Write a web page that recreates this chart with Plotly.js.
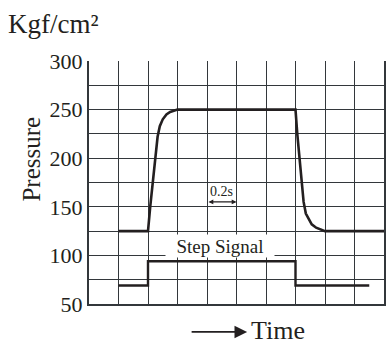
<!DOCTYPE html>
<html>
<head>
<meta charset="utf-8">
<script src="https://cdn.plot.ly/plotly-3.0.1.min.js"></script>
<style>html,body{margin:0;padding:0;background:#fff;}#chart{width:388px;height:345px;}</style>
</head>
<body>
<div id="chart"></div>
<script>
// Pressure response (time in s, pressure in Kgf/cm²)
var pressureX = [0.2, 0.4, 0.415, 0.432, 0.447, 0.465, 0.48, 0.5, 0.525, 0.55, 0.6, 1.4, 1.412, 1.426, 1.442, 1.455, 1.47, 1.49, 1.51, 1.54, 1.57, 1.6, 2.0];
var pressureY = [125, 125, 150, 175, 200, 222, 233, 240, 245, 247.5, 250, 250, 225, 200, 175, 155, 143, 137, 132, 128.5, 126.5, 125, 125];
// Step signal
var stepX = [0.2, 0.4, 1.4, 1.9];
var stepY = [69, 94, 69, 69];
// Axis ticks
var yTickVals = [50, 75, 100, 125, 150, 175, 200, 225, 250, 275, 300];
var yTickText = ['50', '', '100', '', '150', '', '200', '', '250', '', '300'];
var xGridVals = [0, 0.2, 0.4, 0.6, 0.8, 1.0, 1.2, 1.4, 1.6, 1.8, 2.0];

var ink = '#231f20';
var serif = '"Liberation Serif", "Times New Roman", serif';

var traces = [
  {x: pressureX, y: pressureY, mode: 'lines', line: {color: ink, width: 2.6}, hoverinfo: 'skip'},
  {x: stepX, y: stepY, mode: 'lines', line: {color: ink, width: 2.4, shape: 'hv'}, hoverinfo: 'skip'}
];

var layout = {
  width: 388, height: 345,
  margin: {l: 89, r: 4, t: 61, b: 41, pad: 0},
  paper_bgcolor: '#fff', plot_bgcolor: '#fff',
  showlegend: false,
  font: {family: serif, color: ink},
  xaxis: {
    range: [0, 2], tickvals: xGridVals, showticklabels: false, ticks: '',
    showgrid: true, gridcolor: '#33373b', gridwidth: 1, zeroline: false,
    showline: true, linecolor: '#33373b', linewidth: 2, mirror: false, fixedrange: true
  },
  yaxis: {
    range: [50, 300], tickvals: yTickVals, ticktext: yTickText, ticks: '',
    tickfont: {family: serif, size: 22, color: ink},
    showgrid: true, gridcolor: '#33373b', gridwidth: 1, zeroline: false,
    showline: true, linecolor: '#33373b', linewidth: 2, mirror: true, fixedrange: true
  },
  annotations: [
    {xref: 'x', yref: 'y', x: 0.885, y: 109.5, text: 'Step Signal', showarrow: false,
     font: {family: serif, size: 19, color: ink}, bgcolor: '#fff', width: 108, height: 22, borderpad: 0},
    {xref: 'x', yref: 'y', x: 0.9, y: 166, text: '0.2s', showarrow: false,
     font: {family: serif, size: 14, color: ink}},
    {xref: 'x', yref: 'y', x: 1.0, y: 155, axref: 'x', ayref: 'y', ax: 0.8, ay: 155, text: '',
     showarrow: true, arrowside: 'end+start', arrowhead: 2, startarrowhead: 2, arrowsize: 0.8, startarrowsize: 0.8,
     arrowwidth: 1.2, arrowcolor: ink, standoff: 0, startstandoff: 0},
    {xref: 'paper', yref: 'paper', x: 0.536, y: -0.115, ax: -57, ay: 0, text: '',
     showarrow: true, arrowhead: 2, arrowsize: 1.4, arrowwidth: 1.8, arrowcolor: ink},
    {xref: 'paper', yref: 'paper', x: 0.542, y: -0.108, xanchor: 'left', yanchor: 'middle', text: 'Time',
     showarrow: false, font: {family: serif, size: 26, color: ink}},
    {xref: 'paper', yref: 'paper', x: -0.247, y: 0.597, textangle: -90, text: 'Pressure',
     showarrow: false, font: {family: serif, size: 25, color: ink}},
    {xref: 'paper', yref: 'paper', x: -0.28, y: 1.152, xanchor: 'left', yanchor: 'middle', text: 'Kgf/cm²',
     showarrow: false, font: {family: serif, size: 27, color: ink}}
  ]
};

Plotly.newPlot('chart', traces, layout, {displayModeBar: false, staticPlot: true});
</script>
</body>
</html>
